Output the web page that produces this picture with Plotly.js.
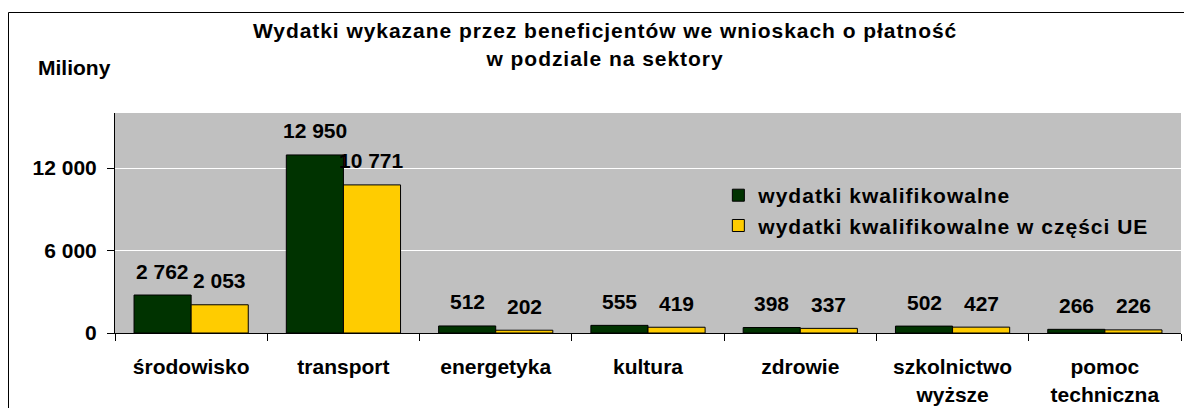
<!DOCTYPE html>
<html>
<head>
<meta charset="utf-8">
<script src="https://cdn.plot.ly/plotly-3.0.1.min.js"></script>
<style>
html,body{margin:0;padding:0;background:#fff;}
.gtitle{letter-spacing:0.95px;}
.legendtext{letter-spacing:1px;}
</style>
</head>
<body>
<div id="chart" style="width:1184px;height:408px;"></div>
<script>
const categories = ["środowisko", "transport", "energetyka", "kultura", "zdrowie", "szkolnictwo<br>wyższe", "pomoc<br>techniczna"];
const seriesNames = ["wydatki kwalifikowalne", "wydatki kwalifikowalne w części UE"];
const qualified = [2762, 12950, 512, 555, 398, 502, 266];
const qualifiedEU = [2053, 10771, 202, 419, 337, 427, 226];
const yTicks = [0, 6000, 12000];

const F = "Liberation Sans, Arial, sans-serif";
const FS = 21;
const fnt = (s) => ({family: F, size: s, color: "#000", weight: "bold"});

const plotW = 1184 - 115 - 3;
const bargap = 0.25;
const barPx = plotW / categories.length * (1 - bargap) / 2;

function fmt(v) { return String(v).replace(/\B(?=(\d{3})+(?!\d))/g, " "); }

const traces = [
  {type: "bar", name: seriesNames[0], x: categories, y: qualified,
   marker: {color: "#003300", line: {color: "#000", width: 1}}},
  {type: "bar", name: seriesNames[1], x: categories, y: qualifiedEU,
   marker: {color: "#FFCC00", line: {color: "#000", width: 1}}}
];

const labels = [];
[qualified, qualifiedEU].forEach((arr, s) => {
  arr.forEach((v, i) => {
    labels.push({x: categories[i], y: v, xref: "x", yref: "y", text: fmt(v),
      xshift: (s === 0 ? -1 : 1) * barPx / 2, yshift: 10.5, yanchor: "bottom", xanchor: "center",
      showarrow: false, font: fnt(FS)});
  });
});

const layout = {
  width: 1184, height: 408,
  margin: {l: 115, r: 3, t: 113, b: 75},
  paper_bgcolor: "#fff", plot_bgcolor: "#C0C0C0",
  separators: ", ",
  barmode: "group", bargap: bargap, bargroupgap: 0,
  showlegend: true,
  font: fnt(FS),
  title: {text: "Wydatki wykazane przez beneficjentów we wnioskach o płatność<br>w podziale na sektory",
          x: 0.511, xanchor: "center", y: 0.906, yanchor: "top",
          font: fnt(FS)},
  xaxis: {type: "category", showgrid: false, tickson: "boundaries", ticks: "outside", ticklen: 7,
          tickcolor: "#000", showline: true, linecolor: "#000", linewidth: 1,
          ticklabelstandoff: 15, tickfont: fnt(FS), fixedrange: true},
  yaxis: {range: [0, 16000], tickvals: yTicks, tickformat: ",", ticks: "outside", ticklen: 7,
          tickcolor: "#000", showline: true, linecolor: "#000", linewidth: 1,
          showgrid: true, gridcolor: "#fff", gridwidth: 1, zeroline: false,
          ticklabelstandoff: 6, tickfont: fnt(FS), fixedrange: true},
  legend: {x: 0.566, y: 0.718, xanchor: "left", yanchor: "top", bgcolor: "rgba(0,0,0,0)",
           font: fnt(FS), tracegroupgap: 0, itemwidth: 30},
  annotations: labels.concat([
    {text: "Miliony", xref: "paper", yref: "paper", x: (36 - 115) / plotW, y: (333 - 67) / 220,
     xanchor: "left", yanchor: "middle", showarrow: false, font: fnt(FS)}
  ]),
  shapes: [
    {type: "rect", xref: "paper", yref: "paper", x0: (8.5 - 115) / plotW, x1: 1.2,
     y0: -0.5, y1: (333 - 12.5) / 220, line: {color: "#000", width: 1}, fillcolor: "rgba(0,0,0,0)", layer: "below"}
  ]
};

Plotly.newPlot("chart", traces, layout, {displayModeBar: false, staticPlot: true});
</script>
</body>
</html>
